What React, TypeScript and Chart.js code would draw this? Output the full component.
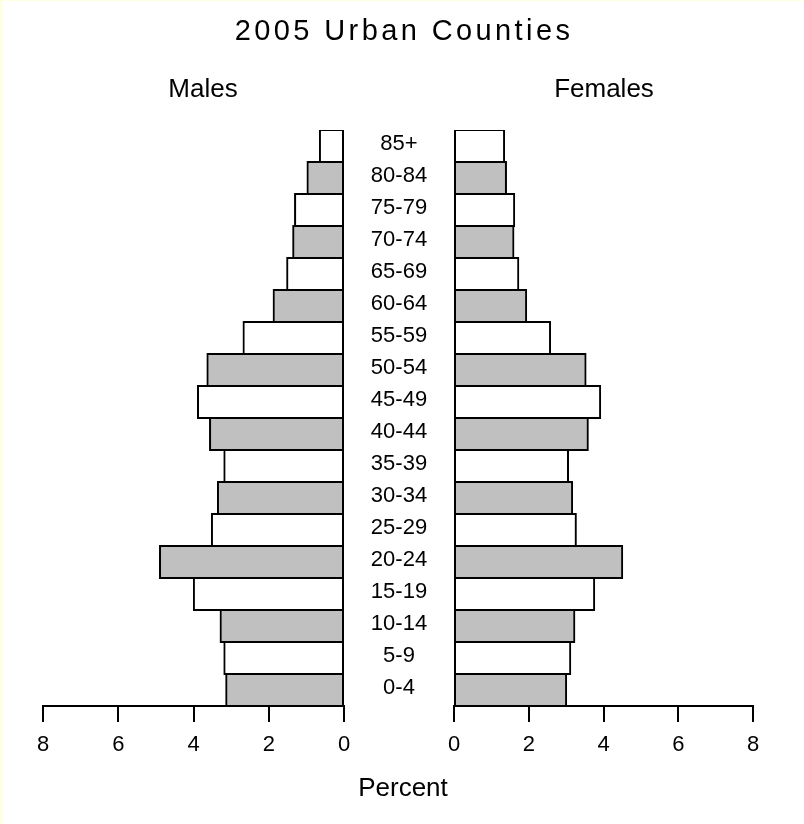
import React, { useEffect, useRef } from "react";
import { Chart, registerables } from "chart.js";

Chart.register(...registerables);

const ages = ["0-4", "5-9", "10-14", "15-19", "20-24", "25-29", "30-34", "35-39", "40-44", "45-49", "50-54", "55-59", "60-64", "65-69", "70-74", "75-79", "80-84", "85+"];
const males = [3.13, 3.18, 3.28, 3.99, 4.89, 3.51, 3.35, 3.18, 3.56, 3.88, 3.63, 2.67, 1.87, 1.51, 1.35, 1.3, 0.97, 0.64];
const females = [3.0, 3.11, 3.22, 3.75, 4.5, 3.26, 3.16, 3.05, 3.58, 3.91, 3.52, 2.57, 1.93, 1.72, 1.59, 1.61, 1.39, 1.34];
const tickValues = [0, 2, 4, 6, 8];

const FONT = '"Liberation Sans", Arial, sans-serif';
const fills = ages.map((_, i) => (i % 2 === 0 ? "#c0c0c0" : "#ffffff"));

function makeConfig(data: number[], reverse: boolean, padding: any, drawAges: boolean): any {
  const agePlugin = {
    id: "ageLabels",
    afterDatasetsDraw(chart: any) {
      if (!drawAges) return;
      const ctx = chart.ctx;
      const y = chart.scales.y;
      const cx = (chart.chartArea.right + chart.width) / 2;
      ctx.save();
      ctx.font = "22px " + FONT;
      ctx.fillStyle = "#000";
      ctx.textAlign = "center";
      ctx.textBaseline = "middle";
      ages.forEach((a, i) => {
        ctx.fillText(a, cx, y.getPixelForValue(i) - 2);
      });
      ctx.restore();
    },
  };
  return {
    type: "bar",
    data: {
      labels: ages,
      datasets: [
        {
          data,
          backgroundColor: fills,
          borderColor: "#000",
          borderWidth: 2,
          borderSkipped: false,
          inflateAmount: 1,
          barPercentage: 1,
          categoryPercentage: 1,
        },
      ],
    },
    options: {
      indexAxis: "y",
      animation: false,
      responsive: false,
      devicePixelRatio: 1,
      layout: { padding },
      plugins: { legend: { display: false }, tooltip: { enabled: false }, title: { display: false } },
      scales: {
        y: { type: "category", reverse: true, display: false, offset: true },
        x: {
          type: "linear",
          min: 0,
          max: 8,
          reverse,
          afterBuildTicks: (s: any) => {
            s.ticks = tickValues.map((v) => ({ value: v }));
          },
          afterFit: (s: any) => {
            s.height = 50;
          },
          border: { display: true, color: "#000", width: 2 },
          grid: { display: true, drawOnChartArea: false, drawTicks: true, tickLength: 16, color: "#000", lineWidth: 2 },
          ticks: { color: "#000", font: { family: FONT, size: 22 }, padding: 10, maxRotation: 0, autoSkip: false },
        },
      },
    },
    plugins: [agePlugin],
  };
}

export default function App() {
  const leftRef = useRef<HTMLCanvasElement>(null);
  const rightRef = useRef<HTMLCanvasElement>(null);

  useEffect(() => {
    const left = new Chart(leftRef.current!, makeConfig(males, true, { left: 43, right: 110, top: 130, bottom: 68 }, true));
    const right = new Chart(rightRef.current!, makeConfig(females, false, { left: 50, right: 51, top: 130, bottom: 68 }, false));
    return () => {
      left.destroy();
      right.destroy();
    };
  }, []);

  const text = (label: string, cx: number, top: number, size: number, extra: any = {}) => (
    <div
      style={{
        position: "absolute",
        left: cx - 250,
        width: 500,
        top,
        textAlign: "center",
        fontFamily: FONT,
        fontSize: size,
        lineHeight: 1,
        color: "#000",
        whiteSpace: "nowrap",
        ...extra,
      }}
    >
      {label}
    </div>
  );

  return (
    <div
      style={{
        position: "absolute",
        left: 0,
        top: 0,
        width: 804,
        height: 824,
        background: "#fff",
        boxShadow: "inset 3px 1px 0 #ffffe1",
        overflow: "hidden",
      }}
    >
      <canvas ref={leftRef} width={454} height={824} style={{ position: "absolute", left: 0, top: 0, width: 454, height: 824 }} />
      <canvas ref={rightRef} width={400} height={824} style={{ position: "absolute", left: 404, top: 0, width: 400, height: 824 }} />
      {text("2005 Urban Counties", 404, 16, 29, { letterSpacing: "3.4px" })}
      {text("Males", 203, 75, 26)}
      {text("Females", 604, 75, 26)}
      {text("Percent", 403, 774, 26)}
    </div>
  );
}
